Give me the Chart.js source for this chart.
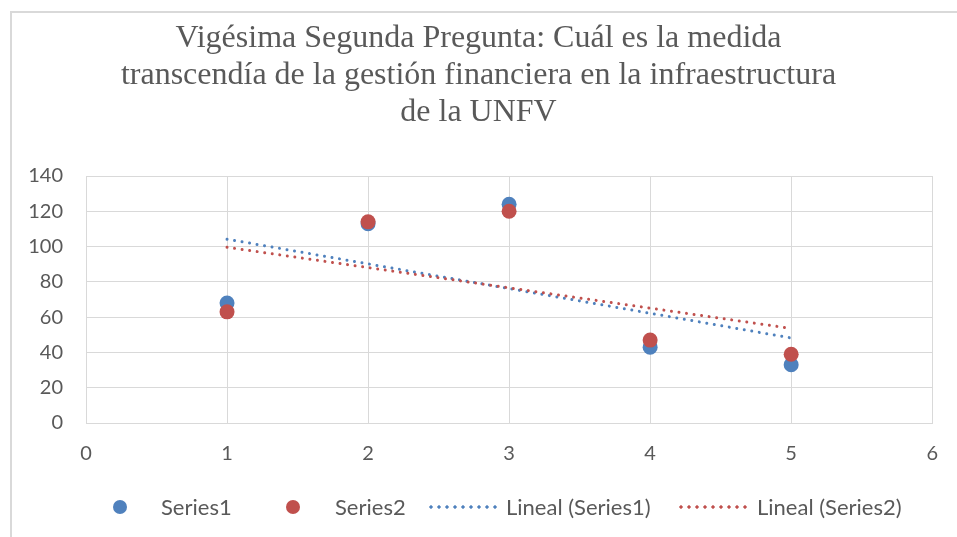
<!DOCTYPE html>
<html>
<head>
<meta charset="utf-8">
<script src="https://cdn.jsdelivr.net/npm/chart.js@4"></script>
<style>
  html, body { margin: 0; padding: 0; background: #ffffff; }
  #wrap { position: relative; width: 957px; height: 537px; overflow: hidden; background: #fff; }
  #c { position: absolute; left: 0; top: 0; }
  #frame { position: absolute; left: 10px; top: 11px; width: 960px; height: 540px;
           border-top: 2px solid #d9d9d9; border-left: 2px solid #d9d9d9; pointer-events: none; }
  .lg { position: absolute; font-family: Lato, "Liberation Sans", sans-serif; font-size: 22px; color: #595959;
        line-height: 26px; top: 494px; white-space: nowrap; }
  .dot { position: absolute; width: 14px; height: 14px; border-radius: 50%; top: 500px; }
  .dl { position: absolute; height: 4px; top: 505px; background-repeat: repeat-x; background-size: 8px 4px; }
</style>
</head>
<body>
<div id="wrap">
  <canvas id="c" width="957" height="537"></canvas>
  <div id="frame"></div>
  <div id="legend"></div>
</div>
<script>
const categories = [1, 2, 3, 4, 5];
const series1 = [68, 113, 124, 43, 33];
const series2 = [63, 114, 120, 47, 39];
const seriesNames = ["Series1", "Series2", "Lineal (Series1)", "Lineal (Series2)"];
const titleLines = ["Vigésima Segunda Pregunta: Cuál es la medida",
                    "transcendía de la gestión financiera en la infraestructura",
                    "de la UNFV"];
const xTicks = [0, 1, 2, 3, 4, 5, 6];
const yTicks = [0, 20, 40, 60, 80, 100, 120, 140];

const blue = "#4F81BD";
const red = "#C0504D";
const textColor = "#595959";
const gridColor = "#d9d9d9";

function points(xs, ys) { return xs.map((x, i) => ({ x: x, y: ys[i] })); }
function trend(xs, ys) {
  const n = xs.length;
  const mx = xs.reduce((a, b) => a + b, 0) / n;
  const my = ys.reduce((a, b) => a + b, 0) / n;
  let sxy = 0, sxx = 0;
  for (let i = 0; i < n; i++) { sxy += (xs[i] - mx) * (ys[i] - my); sxx += (xs[i] - mx) ** 2; }
  const b = sxy / sxx, a = my - b * mx;
  const x0 = Math.min(...xs), x1 = Math.max(...xs);
  return [{ x: x0, y: a + b * x0 }, { x: x1, y: a + b * x1 }];
}

const tickFont = { family: "Lato, 'Liberation Sans', sans-serif", size: 20 };

new Chart(document.getElementById("c"), {
  type: "scatter",
  data: {
    datasets: [
      { label: seriesNames[0], data: points(categories, series1), backgroundColor: blue, borderColor: blue,
        pointRadius: 7.5, pointHoverRadius: 7.5, borderWidth: 0, order: 3 },
      { label: seriesNames[1], data: points(categories, series2), backgroundColor: red, borderColor: red,
        pointRadius: 7.5, pointHoverRadius: 7.5, borderWidth: 0, order: 2 },
      { label: seriesNames[2], data: trend(categories, series1), showLine: true, borderColor: blue,
        backgroundColor: blue, borderWidth: 3, borderDash: [0.01, 7.6], borderCapStyle: "round",
        pointRadius: 0, order: 1 },
      { label: seriesNames[3], data: trend(categories, series2), showLine: true, borderColor: red,
        backgroundColor: red, borderWidth: 3, borderDash: [0.01, 7.6], borderCapStyle: "round",
        pointRadius: 0, order: 0 }
    ]
  },
  options: {
    responsive: false,
    animation: false,
    layout: { padding: { left: 0, right: 0, top: 0, bottom: 0 } },
    plugins: {
      legend: { display: false },
      tooltip: { enabled: false },
      title: {
        display: true, text: titleLines, color: textColor,
        font: { family: "'Liberation Serif', 'Times New Roman', serif", size: 32, weight: "normal", lineHeight: 37 / 32 },
        padding: { top: 20, bottom: 45 }
      }
    },
    scales: {
      x: {
        type: "linear", min: 0, max: 6,
        afterBuildTicks: s => { s.ticks = xTicks.map(v => ({ value: v })); },
        afterFit: s => { s.height = 114; },
        grid: { color: gridColor, lineWidth: 1, drawTicks: false },
        border: { color: gridColor, width: 1 },
        ticks: { color: textColor, font: tickFont, padding: 19 }
      },
      y: {
        type: "linear", min: 0, max: 140,
        afterBuildTicks: s => { s.ticks = yTicks.map(v => ({ value: v })); },
        afterFit: s => { s.width = 86; },
        grid: { color: gridColor, lineWidth: 1, drawTicks: false },
        border: { color: gridColor, width: 1 },
        ticks: { color: textColor, font: tickFont, padding: 23 }
      },
      yRight: {
        type: "linear", position: "right", min: 0, max: 140,
        afterFit: s => { s.width = 22; },
        grid: { display: false, drawTicks: false },
        border: { display: false },
        ticks: { display: false }
      }
    }
  }
});

// legend
const lg = document.getElementById("legend");
const items = [
  { kind: "dot", color: blue, mark: 113, text: 161, label: seriesNames[0] },
  { kind: "dot", color: red, mark: 286, text: 335, label: seriesNames[1] },
  { kind: "line", color: blue, mark: 429, w: 70, text: 506, label: seriesNames[2] },
  { kind: "line", color: red, mark: 679, w: 70, text: 757, label: seriesNames[3] }
];
items.forEach(it => {
  const m = document.createElement("div");
  m.className = it.kind === "dot" ? "dot" : "dl";
  m.style.left = it.mark + "px";
  if (it.kind === "dot") m.style.background = it.color;
  else {
    m.style.width = it.w + "px";
    m.style.backgroundImage = "radial-gradient(circle at 2px 2px, " + it.color + " 1.4px, rgba(255,255,255,0) 1.9px)";
  }
  lg.appendChild(m);
  const t = document.createElement("div");
  t.className = "lg";
  t.style.left = it.text + "px";
  t.textContent = it.label;
  lg.appendChild(t);
});
</script>
</body>
</html>
